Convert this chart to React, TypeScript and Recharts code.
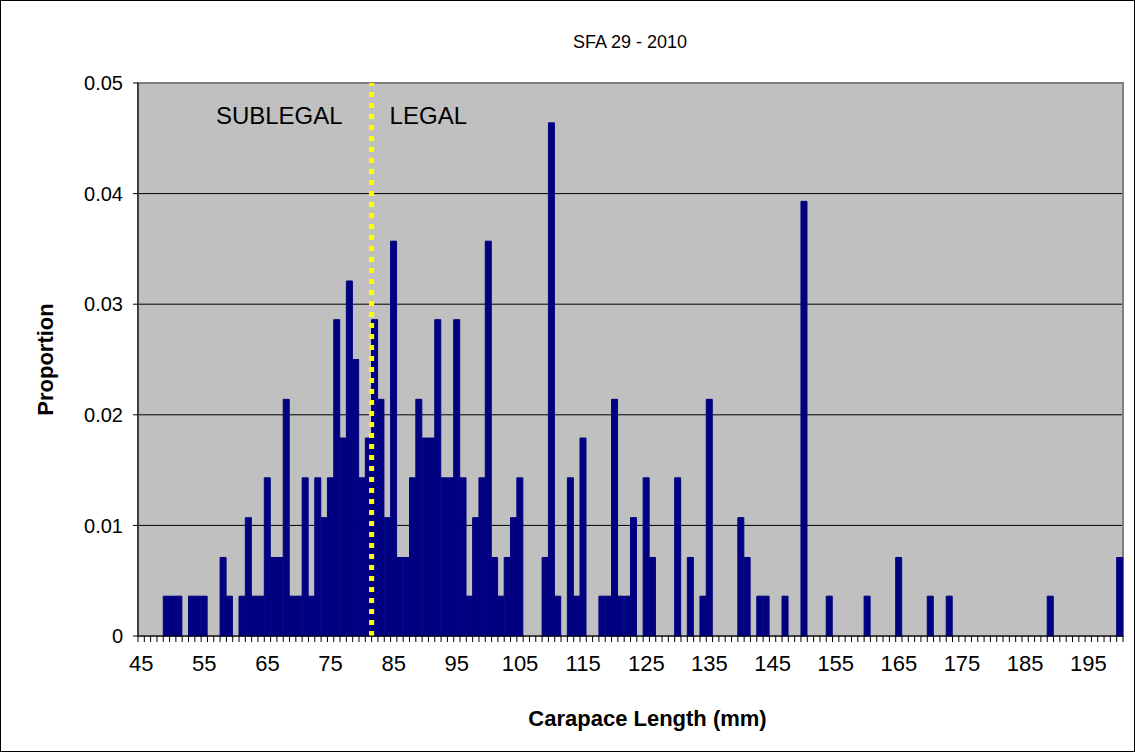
import {
  BarChart,
  Bar,
  XAxis,
  YAxis,
  CartesianGrid,
  ReferenceLine,
  ReferenceArea,
} from 'recharts'

// carapace length classes (mm)
const lengths = [
  45, 46, 47, 48, 49, 50, 51, 52, 53, 54,
  55, 56, 57, 58, 59, 60, 61, 62, 63, 64,
  65, 66, 67, 68, 69, 70, 71, 72, 73, 74,
  75, 76, 77, 78, 79, 80, 81, 82, 83, 84,
  85, 86, 87, 88, 89, 90, 91, 92, 93, 94,
  95, 96, 97, 98, 99, 100, 101, 102, 103, 104,
  105, 106, 107, 108, 109, 110, 111, 112, 113, 114,
  115, 116, 117, 118, 119, 120, 121, 122, 123, 124,
  125, 126, 127, 128, 129, 130, 131, 132, 133, 134,
  135, 136, 137, 138, 139, 140, 141, 142, 143, 144,
  145, 146, 147, 148, 149, 150, 151, 152, 153, 154,
  155, 156, 157, 158, 159, 160, 161, 162, 163, 164,
  165, 166, 167, 168, 169, 170, 171, 172, 173, 174,
  175, 176, 177, 178, 179, 180, 181, 182, 183, 184,
  185, 186, 187, 188, 189, 190, 191, 192, 193, 194,
  195, 196, 197, 198, 199, 200,
]

const proportion = [
  0, 0, 0, 0, 0.0036, 0.0036, 0.0036, 0, 0.0036, 0.0036,
  0.0036, 0, 0, 0.0071, 0.0036, 0, 0.0036, 0.0107, 0.0036, 0.0036,
  0.0143, 0.0071, 0.0071, 0.0214, 0.0036, 0.0036, 0.0143, 0.0036, 0.0143, 0.0107,
  0.0143, 0.0286, 0.0179, 0.0321, 0.025, 0.0143, 0.0179, 0.0286, 0.0214, 0.0107,
  0.0357, 0.0071, 0.0071, 0.0143, 0.0214, 0.0179, 0.0179, 0.0286, 0.0143, 0.0143,
  0.0286, 0.0143, 0.0036, 0.0107, 0.0143, 0.0357, 0.0071, 0.0036, 0.0071, 0.0107,
  0.0143, 0, 0, 0, 0.0071, 0.0464, 0.0036, 0, 0.0143, 0.0036,
  0.0179, 0, 0, 0.0036, 0.0036, 0.0214, 0.0036, 0.0036, 0.0107, 0,
  0.0143, 0.0071, 0, 0, 0, 0.0143, 0, 0.0071, 0, 0.0036,
  0.0214, 0, 0, 0, 0, 0.0107, 0.0071, 0, 0.0036, 0.0036,
  0, 0, 0.0036, 0, 0, 0.0393, 0, 0, 0, 0.0036,
  0, 0, 0, 0, 0, 0.0036, 0, 0, 0, 0,
  0.0071, 0, 0, 0, 0, 0.0036, 0, 0, 0.0036, 0,
  0, 0, 0, 0, 0, 0, 0, 0, 0, 0,
  0, 0, 0, 0, 0.0036, 0, 0, 0, 0, 0,
  0, 0, 0, 0, 0, 0.0071,
]

const xTickLabels = [45, 55, 65, 75, 85, 95, 105, 115, 125, 135, 145, 155, 165, 175, 185, 195]
const yTicks = [0, 0.01, 0.02, 0.03, 0.04, 0.05]
const legalSize = 82

const data = lengths.map((len, i) => ({ len, p: proportion[i] }))

const FONT = '"Liberation Sans", Arial, sans-serif'

function LengthTick({ x, y, payload, index }: any) {
  const half = payload?.offset || 985 / lengths.length / 2
  const last = index === lengths.length - 1
  return (
    <g>
      <line x1={x - half} x2={x - half} y1={y} y2={y + 6} stroke="#000" />
      {last && <line x1={x + half} x2={x + half} y1={y} y2={y + 6} stroke="#000" />}
      {xTickLabels.includes(payload.value) && (
        <text x={x} y={y + 35} textAnchor="middle" fontSize={22} fontFamily={FONT} fill="#000">
          {payload.value}
        </text>
      )}
    </g>
  )
}

function LegalLabels({ viewBox }: any) {
  const { x, y } = viewBox
  return (
    <g fontFamily={FONT} fontSize={24} fill="#000">
      <text x={x - 29} y={y + 41} textAnchor="end">SUBLEGAL</text>
      <text x={x + 18} y={y + 41} textAnchor="start">LEGAL</text>
    </g>
  )
}

export default function App() {
  return (
    <div style={{ position: 'absolute', left: 0, top: 0, width: 1135, height: 752, background: '#fff' }}>
      <div
        style={{
          position: 'absolute',
          left: 0,
          top: 31,
          width: 1260,
          textAlign: 'center',
          fontFamily: FONT,
          fontSize: 18,
          lineHeight: '22px',
        }}
      >
        SFA 29 - 2010
      </div>
      <BarChart
        width={1135}
        height={752}
        data={data}
        margin={{ top: 83, right: 12, left: 30, bottom: 16 }}
        barCategoryGap={0}
      >
        <CartesianGrid vertical={false} stroke="#000" fill="#C0C0C0" fillOpacity={1} />
        <XAxis
          dataKey="len"
          type="category"
          interval={0}
          height={100}
          tickSize={0}
          tickMargin={0}
          tick={<LengthTick />}
          tickLine={false}
          axisLine={{ stroke: '#000' }}
          label={{
            value: 'Carapace Length (mm)',
            position: 'insideBottom',
            offset: 10,
            dx: 17,
            style: { fontFamily: FONT, fontSize: 22, fontWeight: 'bold', fill: '#000' },
          }}
        />
        <YAxis
          type="number"
          domain={[0, 0.05]}
          ticks={yTicks}
          width={108}
          tickSize={5}
          tickMargin={10}
          tickLine={{ stroke: '#000' }}
          axisLine={{ stroke: '#000' }}
          tick={{ fontSize: 20, fontFamily: FONT, fill: '#000' }}
          label={{
            value: 'Proportion',
            angle: -90,
            position: 'insideLeft',
            offset: 15,
            style: { fontFamily: FONT, fontSize: 22, fontWeight: 'bold', fill: '#000', textAnchor: 'middle' },
          }}
        />
        <ReferenceArea
          x1={45}
          x2={200}
          y1={0}
          y2={0.05}
          fill="none"
          stroke="#808080"
          strokeWidth={2}
        />
        <Bar dataKey="p" fill="#000080" stroke="#000080" strokeWidth={1} isAnimationActive={false} />
        <ReferenceLine
          x={legalSize}
          position="start"
          stroke="#FFFF00"
          strokeWidth={5}
          strokeDasharray="5 6"
          label={<LegalLabels />}
        />
      </BarChart>
      <div
        style={{
          position: 'absolute',
          inset: 0,
          border: '1px solid #000',
          pointerEvents: 'none',
        }}
      />
    </div>
  )
}
